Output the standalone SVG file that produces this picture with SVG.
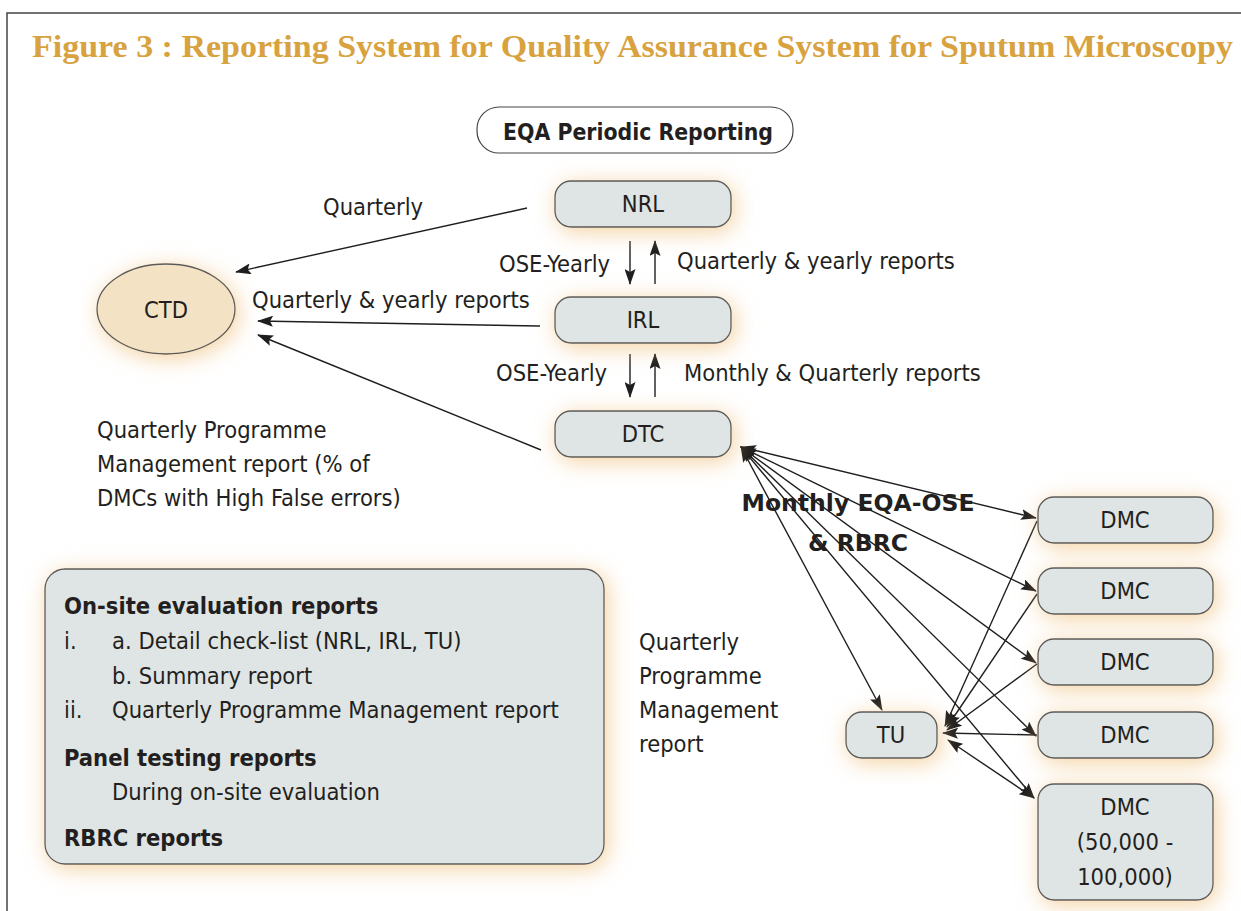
<svg xmlns="http://www.w3.org/2000/svg" width="1241" height="911" viewBox="0 0 1241 911">
  <style>
    .t { font-family: "DejaVu Sans Condensed", "DejaVu Sans", sans-serif; font-stretch: condensed; font-size: 23.5px; fill: #231f20; }
    .c { text-anchor: middle; }
    .b { font-weight: bold; }
    .box { fill: #dfe5e4; stroke: #5a5a5a; stroke-width: 1.3; }
    .oval { fill: #f3e3c4; stroke: #5a5a5a; stroke-width: 1.3; }
    .ln { stroke: #1e1e1e; stroke-width: 1.4; fill: none; }
    .one { marker-end: url(#ah); }
    .two { marker-start: url(#ah); marker-end: url(#ah); }
  </style>
  <defs>
    <marker id="ah" viewBox="0 0 16 11" refX="15" refY="5.5" markerWidth="16" markerHeight="11" markerUnits="userSpaceOnUse" orient="auto-start-reverse">
      <path d="M0,0 L16,5.5 L0,11 L3,5.5 Z" fill="#1e1e1e"/>
    </marker>
    <filter id="glow" x="-40%" y="-70%" width="180%" height="240%">
      <feGaussianBlur in="SourceAlpha" stdDeviation="11" result="bl"/>
      <feOffset in="bl" dx="3" dy="4" result="off"/>
      <feFlood flood-color="#edb96e" flood-opacity="0.65"/>
      <feComposite in2="off" operator="in" result="sh"/>
      <feMerge><feMergeNode in="sh"/><feMergeNode in="SourceGraphic"/></feMerge>
    </filter>
  </defs>

  <rect width="1241" height="911" fill="#ffffff"/>
  <!-- page frame -->
  <path d="M7,911 V13 H1241" fill="none" stroke="#444" stroke-width="1.5"/>

  <text x="32" y="57" textLength="1201" lengthAdjust="spacingAndGlyphs" font-family="'Liberation Serif', serif" font-weight="bold" font-size="31" fill="#d8a23f">Figure 3 : Reporting System for Quality Assurance System for Sputum Microscopy</text>

  <g id="eqa-header">
    <rect x="477" y="107" width="316" height="46" rx="22" fill="#ffffff" stroke="#444" stroke-width="1.2"/>
    <text class="t b c" x="638" y="140" textLength="270" lengthAdjust="spacingAndGlyphs">EQA  Periodic Reporting</text>
  </g>

  <!-- connectors -->
  <g id="connectors">
    <line class="ln one" x1="527" y1="208" x2="236" y2="272"/>
    <line class="ln one" x1="540" y1="326" x2="258" y2="321"/>
    <line class="ln one" x1="541" y1="450" x2="258" y2="335"/>
    <line class="ln one" x1="630" y1="241" x2="630" y2="284"/>
    <line class="ln one" x1="655" y1="284" x2="655" y2="241"/>
    <line class="ln one" x1="630" y1="354" x2="630" y2="397"/>
    <line class="ln one" x1="655" y1="397" x2="655" y2="354"/>
    <!-- DTC to DMCs and TU -->
    <line class="ln two" x1="741" y1="447" x2="1036" y2="518"/>
    <line class="ln two" x1="741" y1="447" x2="1036" y2="591"/>
    <line class="ln two" x1="741" y1="447" x2="1036" y2="663"/>
    <line class="ln two" x1="741" y1="447" x2="1036" y2="736"/>
    <line class="ln two" x1="741" y1="447" x2="1034" y2="798"/>
    <line class="ln two" x1="741" y1="447" x2="882" y2="710"/>
    <!-- DMCs to TU -->
    <line class="ln one" x1="1037" y1="521" x2="945" y2="726"/>
    <line class="ln one" x1="1037" y1="594" x2="947" y2="727"/>
    <line class="ln one" x1="1037" y1="664" x2="947" y2="730"/>
    <line class="ln one" x1="1037" y1="735" x2="943" y2="733"/>
    <line class="ln two" x1="1034" y1="798" x2="948" y2="740"/>
  </g>

  <g id="ctd">
    <ellipse class="oval" cx="166" cy="309" rx="69" ry="45" filter="url(#glow)"/>
    <text class="t c" x="166" y="318">CTD</text>
  </g>
  <g id="nrl">
    <rect class="box" x="555" y="181" width="176" height="46" rx="16" filter="url(#glow)"/>
    <text class="t c" x="643" y="212">NRL</text>
  </g>
  <g id="irl">
    <rect class="box" x="555" y="297" width="176" height="46" rx="16" filter="url(#glow)"/>
    <text class="t c" x="643" y="328">IRL</text>
  </g>
  <g id="dtc">
    <rect class="box" x="555" y="411" width="176" height="46" rx="16" filter="url(#glow)"/>
    <text class="t c" x="643" y="442">DTC</text>
  </g>
  <g id="tu">
    <rect class="box" x="846" y="712" width="91" height="46" rx="16" filter="url(#glow)"/>
    <text class="t c" x="891" y="743">TU</text>
  </g>
  <g id="dmc1">
    <rect class="box" x="1038" y="497" width="175" height="46" rx="16" filter="url(#glow)"/>
    <text class="t c" x="1125" y="528">DMC</text>
  </g>
  <g id="dmc2">
    <rect class="box" x="1038" y="568" width="175" height="46" rx="16" filter="url(#glow)"/>
    <text class="t c" x="1125" y="599">DMC</text>
  </g>
  <g id="dmc3">
    <rect class="box" x="1038" y="639" width="175" height="46" rx="16" filter="url(#glow)"/>
    <text class="t c" x="1125" y="670">DMC</text>
  </g>
  <g id="dmc4">
    <rect class="box" x="1038" y="712" width="175" height="46" rx="16" filter="url(#glow)"/>
    <text class="t c" x="1125" y="743">DMC</text>
  </g>
  <g id="dmc5">
    <rect class="box" x="1038" y="784" width="175" height="116" rx="16" filter="url(#glow)"/>
    <text class="t c" x="1125" y="815">DMC</text>
    <text class="t c" x="1125" y="850">(50,000 -</text>
    <text class="t c" x="1125" y="885">100,000)</text>
  </g>

  <g id="labels">
    <text class="t" x="323" y="215">Quarterly</text>
    <text class="t" x="499" y="272">OSE-Yearly</text>
    <text class="t" x="677" y="269">Quarterly &amp; yearly reports</text>
    <text class="t" x="252" y="308">Quarterly &amp; yearly reports</text>
    <text class="t" x="496" y="381">OSE-Yearly</text>
    <text class="t" x="684" y="381">Monthly &amp; Quarterly reports</text>
    <text class="t" x="97" y="438">Quarterly Programme</text>
    <text class="t" x="97" y="472">Management report (% of</text>
    <text class="t" x="97" y="506">DMCs with High False errors)</text>
    <text class="t b c" x="858" y="511" font-size="30" textLength="233" lengthAdjust="spacingAndGlyphs">Monthly EQA-OSE</text>
    <text class="t b c" x="858" y="551" font-size="30" textLength="100" lengthAdjust="spacingAndGlyphs">&amp; RBRC</text>
    <text class="t" x="639" y="650">Quarterly</text>
    <text class="t" x="639" y="684">Programme</text>
    <text class="t" x="639" y="718">Management</text>
    <text class="t" x="639" y="752">report</text>
  </g>

  <g id="report-list">
    <rect class="box" x="45" y="569" width="559" height="295" rx="20" filter="url(#glow)"/>
    <text class="t b" x="64" y="614">On-site evaluation reports</text>
    <text class="t" x="64" y="649">i.</text>
    <text class="t" x="112" y="649">a. Detail check-list (NRL, IRL, TU)</text>
    <text class="t" x="112" y="684">b. Summary report</text>
    <text class="t" x="64" y="718">ii.</text>
    <text class="t" x="112" y="718">Quarterly Programme Management report</text>
    <text class="t b" x="64" y="766">Panel testing reports</text>
    <text class="t" x="112" y="800">During on-site evaluation</text>
    <text class="t b" x="64" y="846">RBRC reports</text>
  </g>
</svg>
